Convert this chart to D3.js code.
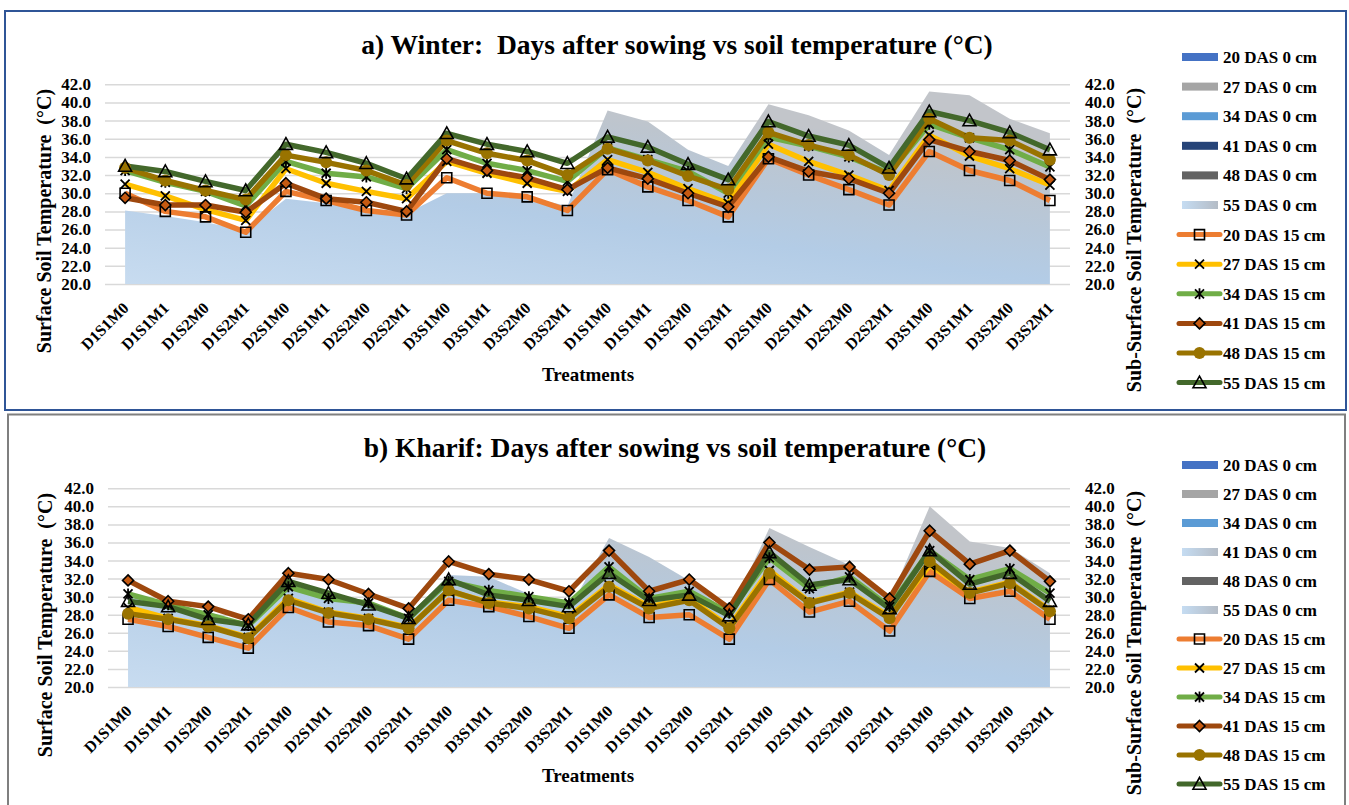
<!DOCTYPE html>
<html>
<head>
<meta charset="utf-8">
<script src="https://cdn.jsdelivr.net/npm/d3@7"></script>
<style>
  body { margin: 0; background: #fff; }
  svg text { font-family: "Liberation Serif", "Times New Roman", serif; font-weight: bold; fill: #000; white-space: pre; }
</style>
</head>
<body>
<svg width="1349" height="805"></svg>
<script>
// ---- data ----
var treatments = ["D1S1M0","D1S1M1","D1S2M0","D1S2M1","D2S1M0","D2S1M1","D2S2M0","D2S2M1",
                  "D3S1M0","D3S1M1","D3S2M0","D3S2M1",
                  "D1S1M0","D1S1M1","D1S2M0","D1S2M1","D2S1M0","D2S1M1","D2S2M0","D2S2M1",
                  "D3S1M0","D3S1M1","D3S2M0","D3S2M1"];
var tempTicks = [20, 22, 24, 26, 28, 30, 32, 34, 36, 38, 40, 42];
var names0cm = ["20 DAS 0 cm","27 DAS 0 cm","34 DAS 0 cm","41 DAS 0 cm","48 DAS 0 cm","55 DAS 0 cm"];
var names15cm = ["20 DAS 15 cm","27 DAS 15 cm","34 DAS 15 cm","41 DAS 15 cm","48 DAS 15 cm","55 DAS 15 cm"];

// winter, surface (0 cm) - visible area outline
var winter0 = [28.1,27.5,26.8,25.9,29.4,28.9,28.3,27.8,30.0,30.0,29.6,28.6,
               39.1,37.9,34.8,33.0,39.8,38.6,36.9,34.2,41.2,40.8,38.2,36.6];
// winter, 15 cm
var winter20 = [30.0,28.0,27.4,25.7,30.2,29.2,28.1,27.6,31.7,30.0,29.6,28.1,32.6,30.7,29.2,27.4,33.8,32.0,30.4,28.7,34.6,32.5,31.4,29.2];
var winter27 = [31.0,29.7,28.2,27.0,32.7,31.1,30.2,29.4,33.5,32.2,31.1,30.2,33.7,32.3,30.5,28.9,35.4,33.5,32.0,30.3,36.4,34.1,32.7,30.9];
var winter34 = [32.5,31.2,30.2,28.6,33.5,32.2,31.8,30.5,34.8,33.3,32.5,31.3,35.0,33.7,32.4,30.0,36.2,35.2,34.0,32.2,37.6,36.1,34.8,32.9];
var winter41 = [29.5,28.7,28.7,27.9,31.1,29.4,29.0,28.0,33.8,32.5,31.7,30.4,32.8,31.6,30.0,28.5,34.0,32.4,31.6,30.0,35.9,34.6,33.6,31.5];
var winter48 = [32.8,31.4,30.3,29.3,34.2,33.4,32.5,30.9,35.8,34.4,33.6,32.0,34.9,33.6,31.9,30.4,36.7,35.3,34.2,32.0,38.2,36.1,35.8,33.7];
var winter55 = [33.0,32.4,31.3,30.3,35.4,34.5,33.3,31.6,36.6,35.4,34.6,33.3,36.2,35.1,33.2,31.5,37.9,36.3,35.3,32.8,39.0,38.0,36.7,34.8];

// kharif, surface (0 cm) - visible area outline
var kharif0 = [30.5,29.2,28.3,27.0,31.5,30.5,29.3,27.8,32.4,32.2,30.3,28.6,
               36.5,34.4,31.8,28.0,37.6,35.5,33.5,29.6,40.0,36.1,35.4,32.6];
// kharif, 15 cm
var kharif20 = [27.5,26.7,25.5,24.3,28.8,27.2,26.8,25.3,29.6,28.9,27.8,26.5,30.2,27.7,28.0,25.3,31.9,28.3,29.5,26.2,32.8,29.8,30.6,27.5];
var kharif27 = [28.8,27.6,26.8,25.5,29.8,28.3,27.6,26.6,30.6,29.4,28.9,27.8,31.3,28.9,29.8,26.7,32.9,29.4,30.5,27.8,33.5,30.5,31.6,28.5];
var kharif34 = [30.3,29.1,28.0,26.8,31.1,29.8,29.3,27.6,31.7,30.7,30.0,29.3,33.3,29.8,30.6,28.2,34.3,30.9,32.2,28.9,35.1,31.9,33.1,30.4];
var kharif41 = [31.8,29.5,28.9,27.5,32.6,31.9,30.3,28.7,33.9,32.5,31.9,30.6,35.1,30.6,31.9,28.7,36.0,33.0,33.3,29.8,37.3,33.6,35.1,31.7];
var kharif48 = [28.1,27.5,26.7,25.4,29.6,28.2,27.5,26.5,30.7,29.3,28.7,27.6,31.1,28.7,29.6,26.5,32.6,29.3,30.4,27.6,33.9,30.4,31.5,28.4];
var kharif55 = [29.5,28.9,27.5,26.9,31.7,30.4,29.1,27.6,31.9,30.2,29.6,28.9,32.6,29.6,30.2,27.9,34.9,31.3,31.9,28.7,35.1,31.4,32.6,29.5];

// ---- styles ----
var lineColors = ["#ED7D31", "#FFC000", "#70AD47", "#9E480E", "#997300", "#43682B"];
var markerTypes = ["square", "x", "asterisk", "diamond", "circle", "triangle"];

var svg = d3.select("svg");
var defs = svg.append("defs");

var swatchGrad = defs.append("linearGradient").attr("id", "swatchGrad");
swatchGrad.append("stop").attr("offset", "0%").attr("stop-color", "#C5DCF2");
swatchGrad.append("stop").attr("offset", "100%").attr("stop-color", "#B4BCC6");

function markerPath(type, r) {
    if (type == "square") return "M" + (-r) + "," + (-r) + "h" + 2 * r + "v" + 2 * r + "h" + (-2 * r) + "Z";
    if (type == "x") return "M" + (-r) + "," + (-r) + "L" + r + "," + r + "M" + (-r) + "," + r + "L" + r + "," + (-r);
    if (type == "asterisk") return "M" + (-r) + "," + (-r) + "L" + r + "," + r + "M" + (-r) + "," + r + "L" + r + "," + (-r) + "M0," + (-r - 1) + "L0," + (r + 1);
    if (type == "diamond") return "M0," + (-r) + "L" + r + ",0L0," + r + "L" + (-r) + ",0Z";
    if (type == "triangle") return "M0," + (-r) + "L" + r + "," + (r * 0.8) + "L" + (-r) + "," + (r * 0.8) + "Z";
}

function drawMarker(sel, type, color) {
    if (type == "circle") {
        sel.append("circle").attr("r", 6).attr("fill", color);
    } else if (type == "diamond") {
        sel.append("path").attr("d", markerPath(type, 5.5)).attr("fill", "#C55A11").attr("stroke", "#000").attr("stroke-width", 1.6);
    } else if (type == "triangle") {
        sel.append("path").attr("d", markerPath(type, 6.5)).attr("fill", "none").attr("stroke", "#000").attr("stroke-width", 1.6);
    } else if (type == "square") {
        sel.append("path").attr("d", markerPath(type, 5)).attr("fill", "none").attr("stroke", "#000").attr("stroke-width", 1.6);
    } else {
        sel.append("path").attr("d", markerPath(type, 4.5)).attr("fill", "none").attr("stroke", "#000").attr("stroke-width", 1.8);
    }
}

function drawPanel(p) {
    var g = svg.append("g");

    g.append("rect")
        .attr("x", p.box[0]).attr("y", p.box[1]).attr("width", p.box[2]).attr("height", p.box[3])
        .attr("fill", "#fff").attr("stroke", p.boxColor).attr("stroke-width", 2);

    var x = d3.scalePoint().domain(d3.range(treatments.length)).range([p.xL, p.xR]).padding(0.5);
    var y = d3.scaleLinear().domain([20, 42]).range([p.yBot, p.yTop]);

    // area gradient: light blue low/left, grey high
    var grad = defs.append("linearGradient").attr("id", p.id + "Grad")
        .attr("gradientUnits", "userSpaceOnUse")
        .attr("x1", p.xL).attr("y1", p.yBot).attr("x2", p.xL + 32).attr("y2", p.yBot - 246);
    grad.append("stop").attr("offset", "0%").attr("stop-color", "#C8DCF0");
    grad.append("stop").attr("offset", "50%").attr("stop-color", "#B3CCE6");
    grad.append("stop").attr("offset", "70%").attr("stop-color", "#B7C8DA");
    grad.append("stop").attr("offset", "90%").attr("stop-color", "#BDC5CE");
    grad.append("stop").attr("offset", "100%").attr("stop-color", "#C2C5CA");

    // gridlines + left axis
    var left = g.append("g").attr("transform", "translate(" + p.xL + ",0)")
        .call(d3.axisLeft(y).tickValues(tempTicks).tickSize(-(p.xR - p.xL)).tickPadding(14).tickFormat(d3.format(".1f")));
    left.select(".domain").remove();
    left.selectAll("line").attr("stroke", "#D9D9D9").attr("stroke-width", 1.5);
    left.attr("font-size", 17);

    var right = g.append("g").attr("transform", "translate(" + p.xR + ",0)")
        .call(d3.axisRight(y).tickValues(tempTicks).tickSize(0).tickPadding(15).tickFormat(d3.format(".1f")));
    right.select(".domain").remove();
    right.attr("font-size", 17);

    // surface area
    var area = d3.area().x(function(d, i) { return x(i); }).y0(y(20)).y1(function(d) { return y(d); });
    g.append("path").datum(p.surface).attr("d", area).attr("fill", "url(#" + p.id + "Grad)");

    // 15 cm lines
    var line = d3.line().x(function(d, i) { return x(i); }).y(function(d) { return y(d); });
    p.deep.forEach(function(vals, k) {
        g.append("path").datum(vals).attr("d", line)
            .attr("fill", "none").attr("stroke", lineColors[k]).attr("stroke-width", 5.5)
            .attr("stroke-linejoin", "round");
    });
    p.deep.forEach(function(vals, k) {
        g.selectAll(null).data(vals).enter().append("g")
            .attr("transform", function(d, i) { return "translate(" + x(i) + "," + y(d) + ")"; })
            .each(function() { drawMarker(d3.select(this), markerTypes[k], lineColors[k]); });
    });

    // x axis labels
    var bottom = g.append("g").attr("transform", "translate(0," + p.yBot + ")")
        .call(d3.axisBottom(x).tickSize(0).tickFormat(function(i) { return treatments[i]; }));
    bottom.select(".domain").remove();
    bottom.attr("font-size", 16);
    bottom.selectAll("text")
        .attr("x", 0).attr("y", 0).attr("dy", null)
        .attr("text-anchor", "end")
        .attr("transform", "translate(4,25) rotate(-45)");

    // titles
    g.append("text").attr("x", p.titleX).attr("y", p.titleY).attr("text-anchor", "middle")
        .attr("font-size", 27.5).text(p.title);
    g.append("text").attr("x", 588).attr("y", p.treatY).attr("text-anchor", "middle")
        .attr("font-size", 19).text("Treatments");
    g.append("text").attr("text-anchor", "middle").attr("font-size", 20)
        .attr("transform", "translate(" + p.leftTitle[0] + "," + p.leftTitle[1] + ") rotate(-90)")
        .text("Surface Soil Temperature  (°C)");
    g.append("text").attr("text-anchor", "middle").attr("font-size", 20)
        .attr("transform", "translate(" + p.rightTitle[0] + "," + p.rightTitle[1] + ") rotate(-90)")
        .text("Sub-Surface Soil Temperature  (°C)");

    // legend
    var leg = g.append("g");
    names0cm.forEach(function(n, k) {
        var ly = p.legY + k * p.legStep;
        leg.append("rect").attr("x", 1182).attr("y", ly - 4).attr("width", 36).attr("height", 8)
            .attr("fill", p.swatch0[k]);
        leg.append("text").attr("x", 1223).attr("y", ly + 6).attr("font-size", 17).text(n);
    });
    names15cm.forEach(function(n, k) {
        var ly = p.legY + (k + 6) * p.legStep;
        leg.append("line").attr("x1", 1179).attr("x2", 1220).attr("y1", ly).attr("y2", ly)
            .attr("stroke", lineColors[k]).attr("stroke-width", 5).attr("stroke-linecap", "round");
        var m = leg.append("g").attr("transform", "translate(1199.5," + ly + ")");
        drawMarker(m, markerTypes[k], lineColors[k]);
        leg.append("text").attr("x", 1223).attr("y", ly + 6).attr("font-size", 17).text(n);
    });
}

drawPanel({
    id: "winter",
    title: "a) Winter:  Days after sowing vs soil temperature (°C)",
    box: [5, 11, 1341, 399], boxColor: "#2F5597",
    xL: 105, xR: 1070, yTop: 84.3, yBot: 284,
    titleX: 677, titleY: 54, treatY: 381,
    leftTitle: [51, 221], rightTitle: [1141, 240],
    legY: 57, legStep: 29.6,
    swatch0: ["#4472C4", "#A5A5A5", "#5B9BD5", "#264478", "#636363", "url(#swatchGrad)"],
    surface: winter0,
    deep: [winter20, winter27, winter34, winter41, winter48, winter55]
});

drawPanel({
    id: "kharif",
    title: "b) Kharif: Days after sowing vs soil temperature (°C)",
    box: [8, 414.5, 1337, 400], boxColor: "#7F7F7F",
    xL: 108, xR: 1070, yTop: 488.3, yBot: 687,
    titleX: 675, titleY: 457, treatY: 782,
    leftTitle: [52, 625], rightTitle: [1141, 643],
    legY: 465, legStep: 29.0,
    swatch0: ["#4472C4", "#A5A5A5", "#5B9BD5", "url(#swatchGrad)", "#636363", "url(#swatchGrad)"],
    surface: kharif0,
    deep: [kharif20, kharif27, kharif34, kharif41, kharif48, kharif55]
});
</script>
</body>
</html>
